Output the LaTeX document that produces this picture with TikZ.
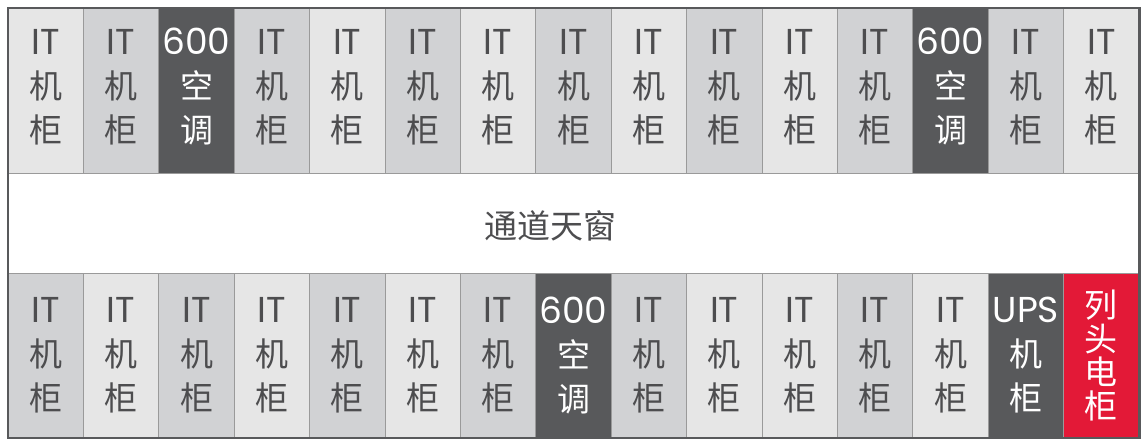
\documentclass[tikz,border=0pt]{standalone}
\usepackage{fontspec}
\setmainfont{Poppins}
\newfontfamily\cjk{Noto Sans CJK SC}
\definecolor{cL}{HTML}{E6E6E6}
\definecolor{cM}{HTML}{D1D2D4}
\definecolor{cD}{HTML}{58595B}
\definecolor{cR}{HTML}{E31937}
\definecolor{txtgray}{HTML}{4D4D4F}
\definecolor{sepgray}{HTML}{9A9A9A}
\definecolor{frame}{HTML}{58595B}
\newcommand\zh[1]{{\cjk\fontsize{33}{44}\selectfont #1}}
\newcommand\cabI{IT\\\zh{机}\\\zh{柜}}
\newcommand\cabA{600\\\zh{空}\\\zh{调}}
\newcommand\cabU{UPS\\\zh{机}\\\zh{柜}}
\newcommand\cabR{\zh{列}\\\zh{头}\\\zh{电}\\\zh{柜}}
\tikzset{
  cellbox/.style={draw=sepgray, line width=1pt, minimum width=75.4pt, minimum height=165pt, inner sep=0pt, outer sep=0pt},
  cellL/.style={cellbox, fill=cL},
  cellM/.style={cellbox, fill=cM},
  cellD/.style={cellbox, fill=cD},
  cellR/.style={cellbox, fill=cR},
  txtL/.style={text=txtgray},
  txtM/.style={text=txtgray},
  txtD/.style={text=white},
  txtR/.style={text=white},
  cabtext/.style={align=center, inner sep=0pt, font=\fontsize{36}{44}\selectfont},
}
\begin{document}
\begin{tikzpicture}[x=1pt,y=-1pt]
\useasboundingbox (0,0) rectangle (1148,447);
\fill[white] (0,0) rectangle (1148,447);
% top row
\foreach \i/\f/\k in {1/L/I,2/M/I,3/D/A,4/M/I,5/L/I,6/M/I,7/L/I,8/M/I,9/L/I,10/M/I,11/L/I,12/M/I,13/D/A,14/M/I,15/L/I}{
  \node[cell\f] (t\i) at ({8+75.4*(\i-0.5)},91) {};
  \node[cabtext, txt\f] (tt\i) at ([yshift=4pt]t\i.center) {\csname cab\k\endcsname};
}
% bottom row
\foreach \i/\f/\k in {1/M/I,2/L/I,3/M/I,4/L/I,5/M/I,6/L/I,7/M/I,8/D/A,9/M/I,10/L/I,11/L/I,12/M/I,13/L/I,14/D/U}{
  \node[cell\f] (b\i) at ({8+75.4*(\i-0.5)},355.5) {};
  \node[cabtext, txt\f] (bt\i) at (b\i.center) {\csname cab\k\endcsname};
}
\node[cellR] (b15) at ({8+75.4*14.5},355.5) {};
\node[cabtext, txtR, font=\fontsize{36}{33.5}\selectfont] (bt15) at (b15.center) {\cabR};
% middle band
\node[inner sep=0pt, text=txtgray, font=\cjk\fontsize{33}{40}\selectfont] (mid) at (550,226) {通道天窗};
% frame
\draw[frame, line width=2.5pt] (8,8) rectangle (1139.5,438);
\end{tikzpicture}
\end{document}
